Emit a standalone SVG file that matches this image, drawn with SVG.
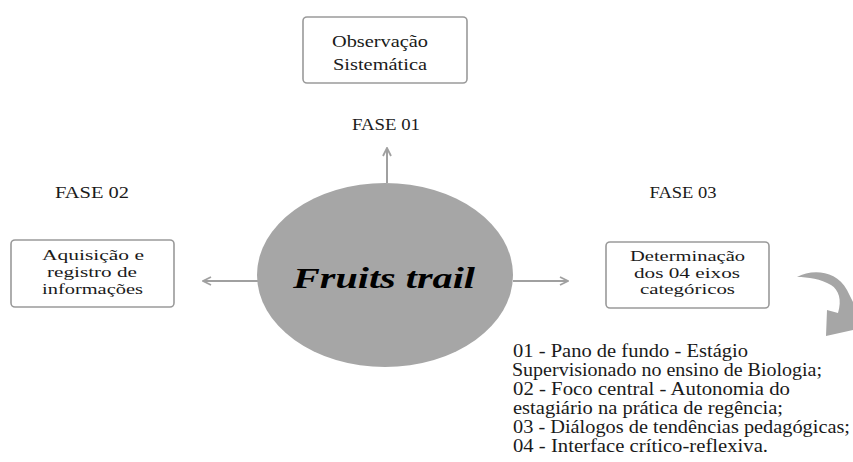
<svg xmlns="http://www.w3.org/2000/svg" width="853" height="462" viewBox="0 0 853 462">
<defs>
<style>
text{font-family:'Liberation Serif','DejaVu Serif',serif;fill:#1a1a1a}
.box{fill:#fff;stroke:#9a9a9a;stroke-width:1.6}
.bt{font-size:15px}
.tt{font-size:17px}
.ph{font-size:16px}
.li{font-size:18px}
.con{stroke:#a0a0a0;stroke-width:2;fill:none}
</style>
<marker id="ah" viewBox="0 0 10 10" refX="9" refY="5" markerWidth="10" markerHeight="10" markerUnits="userSpaceOnUse" orient="auto">
<path d="M1,1 L9,5 L1,9" fill="none" stroke="#a0a0a0" stroke-width="1.8"/>
</marker>
</defs>
<rect width="853" height="462" fill="#fff"/>
<g id="connectors">
<line class="con" x1="387" y1="183" x2="387" y2="148" marker-end="url(#ah)"/>
<line class="con" x1="258" y1="281" x2="203" y2="281" marker-end="url(#ah)"/>
<line class="con" x1="513" y1="281" x2="568" y2="281" marker-end="url(#ah)"/>
<path id="curved-arrow" d="M797,277 C812,269 836,270 847,290 L853,302 L853,330 L826,336 L827,310 L838,313 C842,300 839,290 831,285 C821,279 808,277 797,277 Z" fill="#a6a6a6"/>
</g>
<g id="center">
<ellipse cx="385" cy="275" rx="128" ry="92" fill="#a6a6a6"/>
<text x="384" y="288" text-anchor="middle" font-size="30" font-weight="bold" font-style="italic" textLength="182" lengthAdjust="spacingAndGlyphs" style="fill:#000">Fruits trail</text>
</g>
<g id="fase01">
<rect class="box" x="303" y="17" width="164" height="66" rx="4"/>
<text class="tt" x="380" y="47" text-anchor="middle" textLength="96" lengthAdjust="spacingAndGlyphs">Observação</text>
<text class="tt" x="380" y="70" text-anchor="middle" textLength="94" lengthAdjust="spacingAndGlyphs">Sistemática</text>
<text class="ph" x="386" y="130" text-anchor="middle" textLength="68" lengthAdjust="spacingAndGlyphs">FASE 01</text>
</g>
<g id="fase02">
<rect class="box" x="11" y="240" width="163" height="67" rx="4"/>
<text class="bt" x="42" y="260" textLength="102" lengthAdjust="spacingAndGlyphs">Aquisição  e</text>
<text class="bt" x="47" y="277" textLength="90" lengthAdjust="spacingAndGlyphs">registro  de</text>
<text class="bt" x="42" y="294" textLength="101" lengthAdjust="spacingAndGlyphs">informações</text>
<text class="ph" x="92" y="198" text-anchor="middle" textLength="74" lengthAdjust="spacingAndGlyphs">FASE 02</text>
</g>
<g id="fase03">
<rect class="box" x="606" y="242" width="163" height="66" rx="4"/>
<text class="bt" x="630" y="261" textLength="115" lengthAdjust="spacingAndGlyphs">Determinação</text>
<text class="bt" x="634" y="278" textLength="106" lengthAdjust="spacingAndGlyphs">dos 04 eixos</text>
<text class="bt" x="640" y="294" textLength="95" lengthAdjust="spacingAndGlyphs">categóricos</text>
<text class="ph" x="683" y="198" text-anchor="middle" textLength="67" lengthAdjust="spacingAndGlyphs">FASE 03</text>
</g>
<g id="categories">
<text class="li" x="513" y="357" textLength="235" lengthAdjust="spacingAndGlyphs">01 - Pano de fundo - Estágio</text>
<text class="li" x="512" y="376" textLength="310" lengthAdjust="spacingAndGlyphs">Supervisionado no ensino de Biologia;</text>
<text class="li" x="513" y="395" textLength="277" lengthAdjust="spacingAndGlyphs">02 - Foco central - Autonomia do</text>
<text class="li" x="513" y="414" textLength="270" lengthAdjust="spacingAndGlyphs">estagiário na prática de regência;</text>
<text class="li" x="513" y="433" textLength="337" lengthAdjust="spacingAndGlyphs">03 - Diálogos de tendências pedagógicas;</text>
<text class="li" x="513" y="452" textLength="255" lengthAdjust="spacingAndGlyphs">04 - Interface crítico-reflexiva.</text>
</g>
</svg>
